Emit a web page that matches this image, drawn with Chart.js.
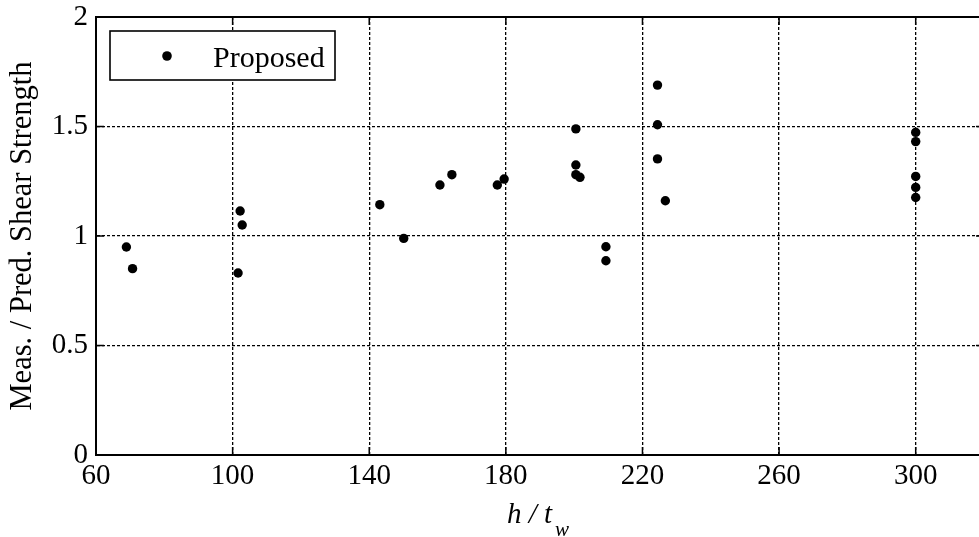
<!DOCTYPE html>
<html><head><meta charset="utf-8">
<script src="https://cdn.jsdelivr.net/npm/chart.js@4/dist/chart.umd.min.js"></script>
<style>
html,body{margin:0;padding:0;overflow:hidden;background:#fff;width:979px;height:537px}
canvas{display:block}
</style></head>
<body>
<canvas id="c" width="1020" height="537"></canvas>
<script>
const seriesLabel = 'Proposed';
const xValues = [68.9, 70.7, 101.6, 102.2, 102.8, 143.1, 150.1, 160.7, 164.2, 177.5, 179.5,
                 200.5, 200.5, 200.5, 201.7, 209.3, 209.3, 224.4, 224.4, 224.4, 226.7,
                 300, 300, 300, 300, 300];
const yValues = [0.950, 0.851, 0.831, 1.114, 1.050, 1.143, 0.989, 1.233, 1.280, 1.233, 1.260,
                 1.489, 1.324, 1.280, 1.268, 0.951, 0.887, 1.689, 1.508, 1.352, 1.161,
                 1.473, 1.431, 1.272, 1.222, 1.176];
const xTicks = [60, 100, 140, 180, 220, 260, 300];
const yTicks = [0, 0.5, 1, 1.5, 2];
const xTitleMain = 'h / t';
const xTitleSub = 'w';
const yTitle = 'Meas. / Pred. Shear Strength';

const SERIF = '"Liberation Serif", "Times New Roman", serif';

const points = xValues.map((x, i) => ({x: x, y: yValues[i]}));

const framePlugin = {
  id: 'frame',
  afterDraw(chart) {
    const ctx = chart.ctx;
    const a = chart.chartArea;
    const xs = chart.scales.x, ys = chart.scales.y;
    ctx.save();
    // top border
    ctx.strokeStyle = '#000';
    ctx.lineWidth = 2;
    ctx.beginPath();
    ctx.moveTo(a.left - 1, a.top);
    ctx.lineTo(a.right, a.top);
    ctx.moveTo(a.right, a.top);
    ctx.lineTo(a.right, a.bottom);
    ctx.stroke();
    // inward tick marks
    ctx.lineWidth = 1.5;
    ctx.beginPath();
    const tl = 8;
    xTicks.forEach(v => {
      const px = xs.getPixelForValue(v);
      ctx.moveTo(px, a.bottom); ctx.lineTo(px, a.bottom - tl);
      ctx.moveTo(px, a.top); ctx.lineTo(px, a.top + tl);
    });
    yTicks.forEach(v => {
      const py = ys.getPixelForValue(v);
      ctx.moveTo(a.left, py); ctx.lineTo(a.left + tl, py);
      ctx.moveTo(a.right, py); ctx.lineTo(a.right - tl, py);
    });
    ctx.stroke();

    // legend
    const lx = a.left + 14, ly = a.top + 14, lw = 225, lh = 49;
    ctx.fillStyle = '#fff';
    ctx.fillRect(lx, ly, lw, lh);
    ctx.strokeStyle = '#000';
    ctx.lineWidth = 1.6;
    ctx.strokeRect(lx, ly, lw, lh);
    ctx.fillStyle = '#000';
    ctx.beginPath();
    ctx.arc(lx + 57, ly + 25, 4.8, 0, Math.PI * 2);
    ctx.fill();
    ctx.font = '30px ' + SERIF;
    ctx.textBaseline = 'alphabetic';
    ctx.textAlign = 'left';
    ctx.fillText(chart.data.datasets[0].label, lx + 103, ly + 36);

    // x axis title with subscript
    const mainFont = 'italic 29px ' + SERIF;
    const subFont = 'italic 21px ' + SERIF;
    ctx.font = mainFont;
    const w1 = ctx.measureText(xTitleMain).width;
    ctx.font = subFont;
    const w2 = ctx.measureText(xTitleSub).width;
    const gap = 3;
    const total = w1 + gap + w2;
    const cx = (a.left + a.right) / 2 - 2;
    const sx = cx - total / 2;
    ctx.font = mainFont;
    ctx.fillText(xTitleMain, sx, a.bottom + 68);
    ctx.font = subFont;
    ctx.fillText(xTitleSub, sx + w1 + gap, a.bottom + 81);
    ctx.restore();
  }
};

new Chart(document.getElementById('c'), {
  type: 'scatter',
  data: {
    datasets: [{
      label: seriesLabel,
      data: points,
      backgroundColor: '#000',
      borderColor: '#000',
      pointRadius: 4.7,
      pointHoverRadius: 4.7,
      borderWidth: 0
    }]
  },
  options: {
    responsive: false,
    animation: false,
    devicePixelRatio: 1,
    layout: {padding: {top: 17, right: 36, left: 0, bottom: 0}},
    plugins: {
      legend: {display: false},
      tooltip: {enabled: false}
    },
    scales: {
      x: {
        type: 'linear',
        min: 60,
        max: 320,
        afterBuildTicks: s => { s.ticks = xTicks.map(v => ({value: v})); },
        afterFit: s => { s.height = 82; s.paddingLeft = 0; s.paddingRight = 0; },
        ticks: {
          color: '#000',
          font: {family: SERIF, size: 29, lineHeight: 1.0},
          padding: 7,
          maxRotation: 0,
          autoSkip: false,
          callback: v => String(v)
        },
        grid: {color: '#000', lineWidth: 1.3, drawTicks: false},
        border: {display: true, color: '#000', width: 2, dash: [3, 2]},
        title: {display: false}
      },
      y: {
        type: 'linear',
        min: 0,
        max: 2,
        afterBuildTicks: s => { s.ticks = yTicks.map(v => ({value: v})); },
        afterFit: s => { s.width = 96; s.paddingTop = 0; s.paddingBottom = 0; },
        ticks: {
          color: '#000',
          font: {family: SERIF, size: 29, lineHeight: 1.0},
          padding: 8,
          autoSkip: false,
          callback: v => String(v)
        },
        grid: {color: '#000', lineWidth: 1.3, drawTicks: false},
        border: {display: true, color: '#000', width: 2, dash: [3, 2]},
        title: {
          display: true,
          text: yTitle,
          color: '#000',
          font: {family: SERIF, size: 30.5, lineHeight: 1.0},
          padding: {top: 8, bottom: 0}
        }
      }
    }
  },
  plugins: [framePlugin]
});
</script>
</body></html>
